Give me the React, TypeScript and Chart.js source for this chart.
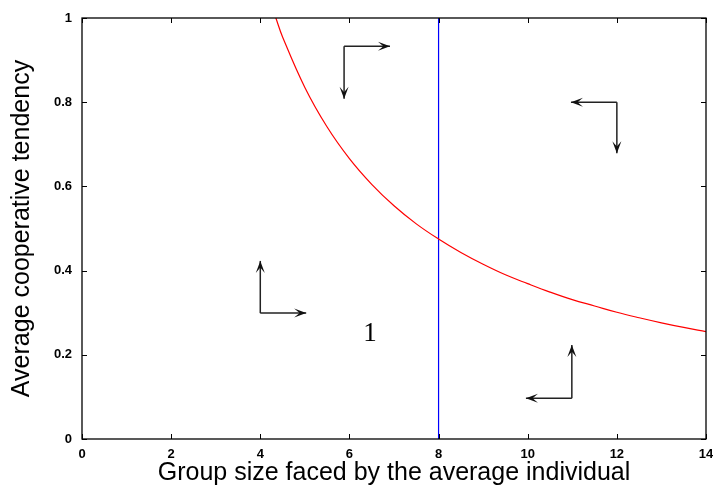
import React, { useEffect, useRef } from "react";
import { Chart, registerables } from "chart.js";

Chart.register(...registerables);

// Red boundary curve
const curveX = [4.35, 4.5, 5, 5.5, 6, 6.5, 7, 7.5, 8, 8.5, 9, 9.5, 10, 10.5, 11, 11.5, 12, 12.5, 13, 13.5, 14];
const curveY = [1.0, 0.955, 0.835, 0.741, 0.666, 0.605, 0.554, 0.511, 0.475, 0.443, 0.415, 0.39, 0.369, 0.349, 0.331, 0.316, 0.301, 0.288, 0.276, 0.265, 0.255];

// Blue vertical line
const vlineX = [8, 8];
const vlineY = [0, 1];

// Arrows: [fromX, fromY, toX, toY]
const arrowsFrom: [number, number][] = [
  [4.0, 0.299], [4.0, 0.299],
  [5.88, 0.933], [5.88, 0.933],
  [12.0, 0.8], [12.0, 0.8],
  [10.99, 0.097], [10.99, 0.097],
];
const arrowsTo: [number, number][] = [
  [4.0, 0.423], [5.03, 0.299],
  [6.91, 0.933], [5.88, 0.808],
  [10.97, 0.8], [12.0, 0.679],
  [10.99, 0.223], [9.96, 0.097],
];

// Region label
const labelText = ["1"];
const labelPos: [number, number][] = [[6.46, 0.25]];

const xTicks = [0, 2, 4, 6, 8, 10, 12, 14];
const yTicks = [0, 0.2, 0.4, 0.6, 0.8, 1];

const overlayPlugin = {
  id: "overlay",
  afterDatasetsDraw(chart: any) {
    const { ctx, chartArea: a, scales } = chart;
    const xs = scales.x;
    const ys = scales.y;
    ctx.save();
    // frame
    ctx.strokeStyle = "#000";
    ctx.lineWidth = 1.3;
    ctx.strokeRect(a.left, a.top, a.right - a.left, a.bottom - a.top);
    // inward mirrored ticks
    const tl = 5;
    ctx.lineWidth = 1;
    ctx.beginPath();
    xTicks.forEach((v) => {
      const px = Math.round(xs.getPixelForValue(v)) + 0.5;
      ctx.moveTo(px, a.bottom);
      ctx.lineTo(px, a.bottom - tl);
      ctx.moveTo(px, a.top);
      ctx.lineTo(px, a.top + tl);
    });
    yTicks.forEach((v) => {
      const py = Math.round(ys.getPixelForValue(v)) + 0.5;
      ctx.moveTo(a.left, py);
      ctx.lineTo(a.left + tl, py);
      ctx.moveTo(a.right, py);
      ctx.lineTo(a.right - tl, py);
    });
    ctx.stroke();

    // arrows
    ctx.strokeStyle = "#222";
    ctx.fillStyle = "#111";
    ctx.lineWidth = 1.5;
    arrowsFrom.forEach((f, i) => {
      const t = arrowsTo[i];
      const x0 = xs.getPixelForValue(f[0]);
      const y0 = ys.getPixelForValue(f[1]);
      const x1 = xs.getPixelForValue(t[0]);
      const y1 = ys.getPixelForValue(t[1]);
      ctx.beginPath();
      ctx.moveTo(x0, y0);
      ctx.lineTo(x1, y1);
      ctx.stroke();
      const ang = Math.atan2(y1 - y0, x1 - x0);
      const len = 12;
      const hw = 4.5;
      const bx = x1 - len * Math.cos(ang);
      const by = y1 - len * Math.sin(ang);
      const nx = -Math.sin(ang);
      const ny = Math.cos(ang);
      const mx = x1 - len * 0.55 * Math.cos(ang);
      const my = y1 - len * 0.55 * Math.sin(ang);
      ctx.beginPath();
      ctx.moveTo(x1, y1);
      ctx.lineTo(bx + nx * hw, by + ny * hw);
      ctx.lineTo(mx, my);
      ctx.lineTo(bx - nx * hw, by - ny * hw);
      ctx.closePath();
      ctx.fill();
    });

    // label
    ctx.fillStyle = "#000";
    ctx.font = "27px 'Liberation Serif', serif";
    ctx.textAlign = "center";
    ctx.textBaseline = "middle";
    labelText.forEach((s, i) => {
      ctx.fillText(s, xs.getPixelForValue(labelPos[i][0]), ys.getPixelForValue(labelPos[i][1]));
    });
    ctx.restore();
  },
};

export default function App() {
  const ref = useRef<HTMLCanvasElement>(null);
  useEffect(() => {
    if (!ref.current) return;
    const chart = new Chart(ref.current, {
      type: "scatter",
      data: {
        datasets: [
          {
            data: curveX.map((x, i) => ({ x, y: curveY[i] })),
            showLine: true,
            borderColor: "#ff0000",
            borderWidth: 1.2,
            pointRadius: 0,
            tension: 0.4,
          },
          {
            data: vlineX.map((x, i) => ({ x, y: vlineY[i] })),
            showLine: true,
            borderColor: "#0000ff",
            borderWidth: 1.2,
            pointRadius: 0,
          },
        ],
      },
      options: {
        responsive: false,
        animation: false,
        devicePixelRatio: 1,
        layout: { padding: { top: 18, right: 7, left: 0, bottom: 0 } },
        plugins: { legend: { display: false }, tooltip: { enabled: false } },
        scales: {
          x: {
            type: "linear",
            min: 0,
            max: 14,
            afterBuildTicks: (s: any) => {
              s.ticks = xTicks.map((v) => ({ value: v }));
            },
            afterFit: (s: any) => {
              s.height = 49;
              s.paddingLeft = 0;
              s.paddingRight = 0;
            },
            grid: { display: false, drawTicks: false },
            border: { display: false },
            ticks: {
              color: "#000",
              padding: 8,
              maxRotation: 0,
              font: { family: "'Liberation Sans', Arial, sans-serif", size: 13, weight: "bold" },
              callback: (v: any) => String(v),
            },
            title: {
              display: true,
              text: "Group size faced by the average individual",
              color: "#000",
              padding: { top: 0, bottom: 0 },
              font: { family: "'Liberation Sans', Arial, sans-serif", size: 25 },
            },
          },
          y: {
            type: "linear",
            min: 0,
            max: 1,
            afterBuildTicks: (s: any) => {
              s.ticks = yTicks.map((v) => ({ value: v }));
            },
            afterFit: (s: any) => {
              s.width = 82;
              s.paddingTop = 0;
              s.paddingBottom = 0;
            },
            grid: { display: false, drawTicks: false },
            border: { display: false },
            ticks: {
              color: "#000",
              padding: 10,
              font: { family: "'Liberation Sans', Arial, sans-serif", size: 13, weight: "bold" },
              callback: (v: any) => String(Math.round(v * 10) / 10),
            },
            title: {
              display: true,
              text: "Average cooperative tendency",
              color: "#000",
              padding: { top: 7, bottom: 0 },
              font: { family: "'Liberation Sans', Arial, sans-serif", size: 25 },
            },
          },
        },
      },
      plugins: [overlayPlugin],
    } as any);
    return () => chart.destroy();
  }, []);
  return (
    <div style={{ position: "absolute", left: 0, top: 0, width: 713, height: 488, background: "#fff" }}>
      <canvas ref={ref} width={713} height={488} />
    </div>
  );
}
